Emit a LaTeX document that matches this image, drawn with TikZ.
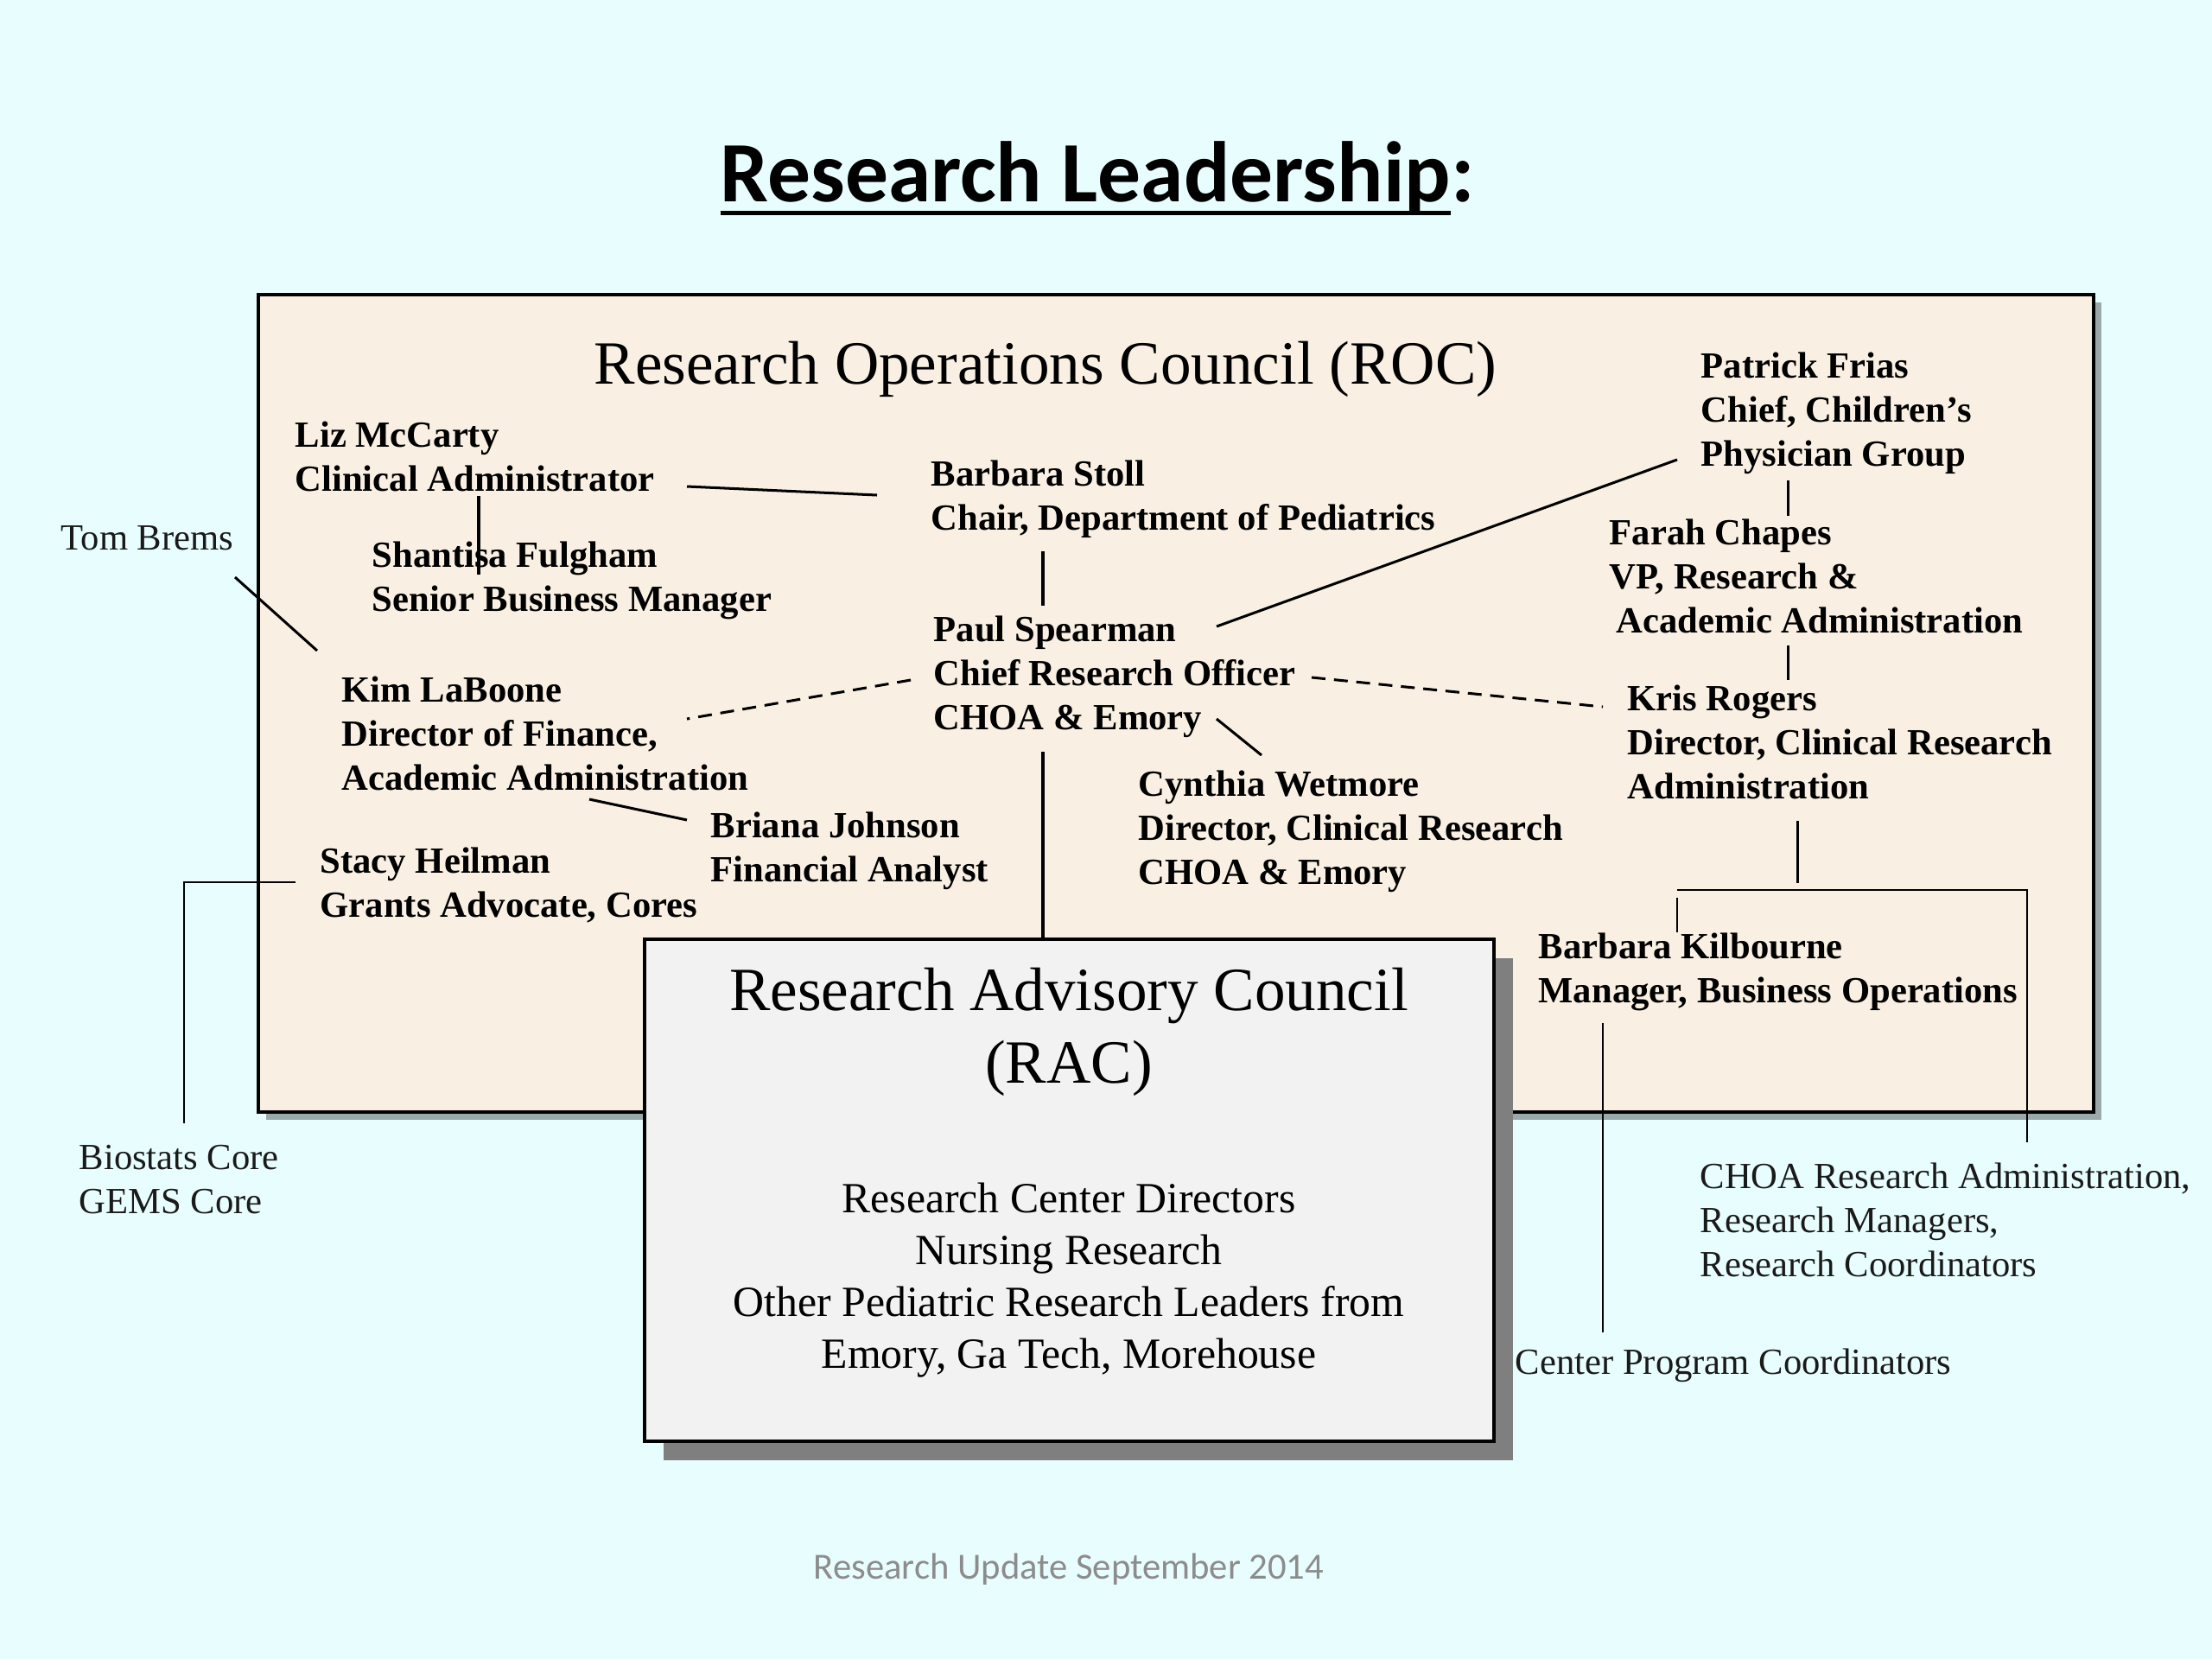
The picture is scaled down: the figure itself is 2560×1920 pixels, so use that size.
\documentclass[tikz,border=0pt]{standalone}
\usepackage{fontspec}
\setmainfont{Liberation Serif}
\newfontfamily\carlito{Carlito}
\usetikzlibrary{shadows}
\definecolor{bgcol}{HTML}{E8FEFE}
\definecolor{rocfill}{HTML}{F9F0E3}
\definecolor{rocshadow}{HTML}{9AAAAA}
\definecolor{racfill}{HTML}{F2F2F2}
\definecolor{racshadow}{HTML}{7F7F7F}
\definecolor{footcol}{HTML}{8C8C8C}
\definecolor{txtcol}{HTML}{1A1A1A}
\newcommand\ulbar[1]{\setbox0=\hbox{#1}\rlap{\rule[-4.6bp]{\wd0}{1.4bp}}\box0}
% multi-line nodes are placed at the baseline of their LAST line
\tikzset{
  person/.style={anchor=base west, align=left, inner sep=0pt, font=\fontsize{12bp}{14.4bp}\selectfont\bfseries},
  outer/.style={anchor=base west, align=left, inner sep=0pt, text=txtcol, font=\fontsize{12bp}{14.4bp}\selectfont},
  conn/.style={line width=0.85bp, draw=black},
  thinconn/.style={line width=0.7bp, draw=black},
  dconn/.style={conn, dash pattern=on 4.5bp off 2.8bp},
  rocbox/.style={draw=black, line width=1.2bp, fill=rocfill, inner sep=0pt,
     drop shadow={shadow xshift=2.6bp, shadow yshift=-2.6bp, fill=rocshadow, opacity=1}},
  racbox/.style={draw=black, line width=1.3bp, fill=racfill, inner sep=0pt,
     drop shadow={shadow xshift=6.2bp, shadow yshift=-6.2bp, fill=racshadow, opacity=1}},
  bigtitle/.style={anchor=base, align=center, inner sep=0pt, font=\fontsize{20bp}{23.4bp}\selectfont},
  racbody/.style={anchor=base, align=center, inner sep=0pt, font=\fontsize{14bp}{16.8bp}\selectfont},
}
\begin{document}
\begin{tikzpicture}[x=0.28125bp,y=-0.28125bp]
\useasboundingbox (0,0) rectangle (2560,1920);
\fill[bgcol] (0,0) rectangle (2560,1920);

% slide title
\node[anchor=base, inner sep=0pt, font=\carlito\fontsize{28bp}{33bp}\selectfont\bfseries] (title) at (1270,233) {\ulbar{Research Leadership}:};

% ROC box
\node[rocbox, minimum width=597.4bp, minimum height=266.1bp] (roc) at (1361,814) {};
\node[bigtitle] (roctitle) at (1210,444) {Research Operations Council (ROC)};

% RAC box
\node[racbox, minimum width=276.5bp, minimum height=163.4bp] (rac) at (1237.5,1377.5) {};
\node[bigtitle] (ractitle) at (1237,1253) {Research Advisory Council\\(RAC)};
\node[racbody] (racbody) at (1237,1583) {Research Center Directors\\Nursing Research\\Other Pediatric Research Leaders from\\Emory, Ga Tech, Morehouse};

% people
\node[person] (liz) at (341,568.2) {Liz McCarty\\Clinical Administrator};
\node[person] (shantisa) at (430,707.2) {Shantisa Fulgham\\Senior Business Manager};
\node[person] (stoll) at (1077,613.2) {Barbara Stoll\\Chair, Department of Pediatrics};
\node[person] (paul) at (1080,844.4) {Paul Spearman\\Chief Research Officer\\CHOA \& Emory};
\node[person] (kim) at (395,914.4) {Kim LaBoone\\Director of Finance,\\Academic Administration};
\node[person] (briana) at (822,1020.2) {Briana Johnson\\Financial Analyst};
\node[person] (stacy) at (370,1061.2) {Stacy Heilman\\Grants Advocate, Cores};
\node[person] (cynthia) at (1317,1023.4) {Cynthia Wetmore\\Director, Clinical Research\\CHOA \& Emory};
\node[person] (patrick) at (1968,539.4) {Patrick Frias\\Chief, Children’s\\Physician Group};
\node[person] (farah) at (1862,732.4) {Farah Chapes\\VP, Research \&\\\hspace*{2.3bp}Academic Administration};
\node[person] (kris) at (1883,924.4) {Kris Rogers\\Director, Clinical Research\\Administration};
\node[person] (kilbourne) at (1780,1160.2) {Barbara Kilbourne\\Manager, Business Operations};

% outside labels
\node[outer] (tom) at (70,636) {Tom Brems};
\node[outer] (biostats) at (91,1404.2) {Biostats Core\\GEMS Core};
\node[outer] (choa) at (1967,1477.4) {CHOA Research Administration,\\Research Managers,\\Research Coordinators};
\node[outer] (cpc) at (1753,1590) {Center Program Coordinators};

% footer
\node[anchor=base, inner sep=0pt, text=footcol, font=\carlito\fontsize{12bp}{14.4bp}\selectfont] (footer) at (1237,1827) {Research Update September 2014};

% connectors
\draw[conn] ([shift={(454,-5.2)}]liz.base west) -- ([shift={(-62,-40.2)}]stoll.base west);
\draw[conn] ([shift={(213,5.8)}]liz.base west) -- ([shift={(124,-42.2)}]shantisa.base west);
\draw[conn] ([shift={(130,24.8)}]stoll.base west) -- ([shift={(127,-143.4)}]paul.base west);
\draw[conn] ([shift={(328,-119.4)}]paul.base west) -- ([shift={(-27,-7.4)}]patrick.base west);
\draw[dconn] ([shift={(-26,-57.4)}]paul.base west) -- ([shift={(400,-82.4)}]kim.base west);
\draw[dconn] ([shift={(438,-60.4)}]paul.base west) -- ([shift={(-28,-106.4)}]kris.base west);
\draw[conn] ([shift={(328,-12.4)}]paul.base west) -- ([shift={(143,-149.4)}]cynthia.base west);
\coordinate (paulS) at ([shift={(127,25.6)}]paul.base west);
\draw[conn] (paulS) -- (paulS |- rac.north);
\draw[conn] ([shift={(287,10.6)}]kim.base west) -- ([shift={(-27,-71.2)}]briana.base west);
\draw[conn] ([shift={(202,32)}]tom.base west) -- ([shift={(-28,-161.4)}]kim.base west);
\draw[thinconn] ([shift={(-28,-40.2)}]stacy.base west) -| ([shift={(122,-104.2)}]biostats.base west);
\draw[conn] ([shift={(101,16.6)}]patrick.base west) -- ([shift={(207,-135.4)}]farah.base west);
\draw[conn] ([shift={(207,14.6)}]farah.base west) -- ([shift={(186,-137.4)}]kris.base west);
\draw[conn] ([shift={(197,25.6)}]kris.base west) -- ([shift={(197,97.6)}]kris.base west);
\draw[thinconn] ([shift={(161,-81.2)}]kilbourne.base west) -- ([shift={(161,-121.2)}]kilbourne.base west);
\draw[thinconn] ([shift={(161,-130.2)}]kilbourne.base west) -| ([shift={(379,-155.4)}]choa.base west);
\draw[thinconn] ([shift={(75,23.8)}]kilbourne.base west) -- ([shift={(102,-48)}]cpc.base west);
\end{tikzpicture}
\end{document}
